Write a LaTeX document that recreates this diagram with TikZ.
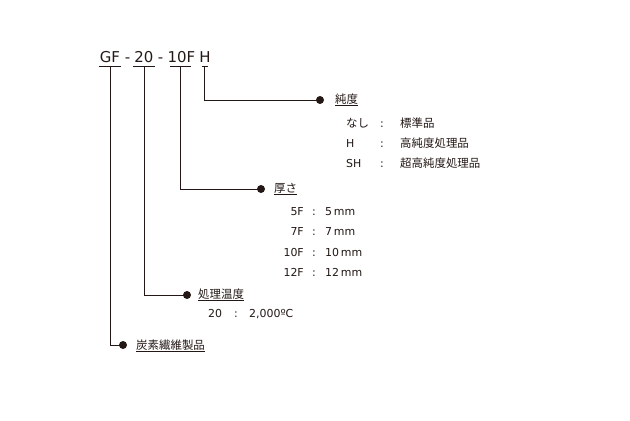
\documentclass[tikz,border=0pt]{standalone}
\usepackage{fontspec}
\setmainfont{DejaVu Sans}
\newfontfamily\jp{Noto Sans CJK JP}
\definecolor{ink}{HTML}{231815}
\begin{document}
\begin{tikzpicture}[x=1bp,y=-1bp,
  part/.style={anchor=base,inner sep=0pt,font=\fontsize{15}{18}\selectfont,text=ink},
  conn/.style={draw=ink,line width=1bp},
  dot/.style={circle,fill=ink,inner sep=0pt,minimum size=8bp},
  lab/.style={anchor=west,inner sep=0pt,font=\jp\fontsize{11.5}{13}\selectfont,text=ink},
  item/.style={anchor=base west,inner sep=0pt,font=\fontsize{11}{13}\selectfont,text=ink},
  itemr/.style={anchor=base east,inner sep=0pt,font=\fontsize{11}{13}\selectfont,text=ink},
  itemj/.style={anchor=base west,inner sep=0pt,font=\jp\fontsize{11.5}{13}\selectfont,text=ink}]
\useasboundingbox[fill=white] (0,0) rectangle (630,420);
% top code
\node[part] (gf) at (110,62) {GF};
\node[part] (m1) at (127.5,62) {-};
\node[part] (tw) at (144,62) {20};
\node[part] (m2) at (160.5,62) {-};
\node[part] (tf) at (181.5,62) {10F};
\node[part] (hh) at (205,62) {H};
% bars
\draw[conn] ([xshift=-11.5,yshift=-4.7]gf.base) -- ([xshift=11.5,yshift=-4.7]gf.base);
\draw[conn] ([xshift=-11,yshift=-4.7]tw.base) -- ([xshift=11,yshift=-4.7]tw.base);
\draw[conn] ([xshift=-11.5,yshift=-4.7]tf.base) -- ([xshift=10,yshift=-4.7]tf.base);
\draw[conn] ([xshift=-3.5,yshift=-4.7]hh.base) -- ([xshift=3.5,yshift=-4.7]hh.base);
% dots
\node[dot] (d1) at (320,100) {};
\node[dot] (d2) at (261,189) {};
\node[dot] (d3) at (187,295) {};
\node[dot] (d4) at (123,345) {};
% connectors
\draw[conn] ([xshift=-1,yshift=-4.7]hh.base) |- (d1.center);
\draw[conn] ([xshift=-1,yshift=-4.7]tf.base) |- (d2.center);
\draw[conn] ([yshift=-4.7]tw.base) |- (d3.center);
\draw[conn] ([yshift=-4.7]gf.base) |- (d4.center);
% labels
\node[lab] (l1) at (335,100) {\underline{純度}};
\node[lab] (l2) at (274,189) {\underline{厚さ}};
\node[lab] (l3) at (198,295) {\underline{処理温度}};
\node[lab] (l4) at (136,346) {\underline{炭素繊維製品}};
% purity rows
\node[itemj] (a1) at (346,127) {なし};
\node[item] (a1c) at (380,127) {:};
\node[itemj] (a1v) at (400,127) {標準品};
\node[item] (a2) at (346,147) {H};
\node[item] (a2c) at (380,147) {:};
\node[itemj] (a2v) at (400,147) {高純度処理品};
\node[item] (a3) at (346,167) {SH};
\node[item] (a3c) at (380,167) {:};
\node[itemj] (a3v) at (400,167) {超高純度処理品};
% thickness rows
\node[itemr] (b1) at (304,215) {5F};
\node[item] (b1c) at (312,215) {:};
\node[item] (b1v) at (325,215) {5\,mm};
\node[itemr] (b2) at (304,235) {7F};
\node[item] (b2c) at (312,235) {:};
\node[item] (b2v) at (325,235) {7\,mm};
\node[itemr] (b3) at (304,256) {10F};
\node[item] (b3c) at (312,256) {:};
\node[item] (b3v) at (325,256) {10\,mm};
\node[itemr] (b4) at (304,276) {12F};
\node[item] (b4c) at (312,276) {:};
\node[item] (b4v) at (325,276) {12\,mm};
% temp row
\node[item] (c1) at (208,317) {20};
\node[item] (c1c) at (234,317) {:};
\node[item] (c1v) at (249,317) {2,000ºC};
\end{tikzpicture}
\end{document}
